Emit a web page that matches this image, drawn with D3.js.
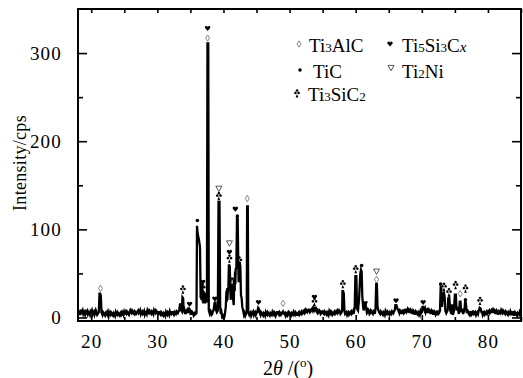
<!DOCTYPE html>
<html>
<head>
<meta charset="utf-8">
<script src="https://cdn.jsdelivr.net/npm/d3@7"></script>
<style>
  body { margin: 0; background: #fff; }
  svg { display: block; }
</style>
</head>
<body>
<div id="chart"></div>
<script>
// XRD trace, [2theta, intensity]
const pattern = [
  [18.0,8],[18.1,4],[18.2,5],[18.3,3],[18.4,9],[18.5,5],[18.6,6],[18.7,8],[18.8,4],[18.9,6],[19.0,7],[19.1,3],[19.2,5],[19.3,7],[19.4,8],[19.5,4],[19.6,6],[19.7,5],[19.8,3],[19.9,7],
  [20.0,6],[20.1,8],[20.2,4],[20.3,6],[20.4,7],[20.5,3],[20.6,5],[20.7,8],[20.8,6],[20.9,3],[21.0,4],[21.15,6],[21.25,27],[21.35,27],[21.45,25],
  [21.55,6],[21.7,3],[21.8,6],[21.9,5],[22.0,3],[22.1,2],[22.2,5],[22.3,4],[22.4,6],[22.5,3],[22.6,1],[22.7,6],[22.8,4],[22.9,3],[23.0,6],[23.1,5],[23.2,3],[23.3,2],
  [23.4,5],[23.5,4],[23.6,2],[23.7,6],[23.8,4],[23.9,3],[24.0,6],[24.1,5],[24.2,3],[24.3,2],[24.4,5],[24.5,6],[24.6,3],[24.7,4],[24.8,6],[24.9,3],[25.0,5],[25.1,7],[25.2,5],[25.3,4],
  [25.4,7],[25.5,6],[25.6,4],[25.7,3],[25.8,6],[25.9,8],[26.0,6],[26.1,5],[26.2,8],[26.3,7],[26.4,5],[26.5,4],[26.6,7],[26.7,6],[26.8,4],[26.9,5],[27.0,7],[27.1,8],[27.2,5],[27.3,6],
  [27.4,8],[27.5,4],[27.6,6],[27.7,7],[27.8,4],[27.9,5],[28.0,7],[28.1,3],[28.2,5],[28.3,6],[28.4,4],[28.5,8],[28.6,6],[28.7,5],[28.8,8],[28.9,7],[29.0,5],[29.1,4],[29.2,7],[29.3,6],
  [29.4,4],[29.5,8],[29.6,6],[29.7,5],[29.8,8],[29.9,7],[30.0,5],[30.1,4],[30.2,6],[30.3,6],[30.4,4],[30.5,3],[30.6,6],[30.7,5],[30.8,3],[30.9,2],[31.0,5],[31.1,4],[31.2,2],[31.3,6],
  [31.4,4],[31.5,3],[31.6,6],[31.7,5],[31.8,3],[31.9,7],[32.0,5],[32.1,4],[32.2,6],[32.3,6],[32.4,4],[32.5,3],[32.6,6],[32.7,5],[32.8,4],[32.9,7],[33.0,6],[33.1,5],[33.2,7],[33.3,8],
  [33.45,16],[33.55,9],[33.7,7],[33.8,23],[33.9,22],[34.0,6],[34.1,8],[34.2,4],[34.3,7],[34.4,6],[34.5,8],[34.6,5],[34.7,8],[34.8,10],
  [34.9,9],[35.0,5],[35.1,6],[35.2,3],[35.3,6],[35.4,5],[35.5,2],[35.6,3],[35.7,5],[35.8,4],[35.92,5],[36.0,104],[36.1,95],[36.3,88],
  [36.45,80],[36.55,22],[36.6,38],[36.65,20],[36.7,21],[36.75,30],[36.8,36],[36.85,18],[36.9,24],[36.95,16],[37.0,30],[37.05,20],[37.1,18],[37.15,27],[37.2,28],[37.25,16],[37.3,20],
  [37.35,28],[37.4,26],[37.45,17],[37.5,22],[37.58,311],[37.7,311],[37.78,8],[37.9,5],[38.0,8],[38.1,7],[38.2,3],[38.3,4],[38.4,7],[38.5,8],[38.65,16],
  [38.75,18],[38.85,9],[39.0,6],[39.15,8],[39.25,131],[39.4,131],[39.5,12],[39.6,4],[39.7,6],[39.8,1],[39.9,2],[40.05,-2],
  [40.2,3],[40.35,12],[40.45,30],[40.5,18],[40.55,33],[40.6,20],[40.65,28],[40.75,35],[40.82,60],[40.95,58],[41.05,30],[41.1,20],[41.15,38],
  [41.25,24],[41.35,36],[41.45,22],[41.55,14],[41.65,45],[41.7,30],[41.75,52],[41.8,38],[41.85,55],[41.95,56],[42.05,115],[42.15,112],
  [42.25,57],[42.3,40],[42.35,60],[42.4,45],[42.45,63],[42.55,58],[42.65,25],[42.75,22],[42.85,12],[43.0,7],[43.1,3],[43.2,5],[43.3,2],[43.4,4],
  [43.52,6],[43.58,126],[43.68,126],[43.75,6],[43.9,3],[44.0,5],[44.1,6],[44.2,2],[44.3,4],[44.4,6],[44.5,7],[44.6,3],[44.7,5],[44.8,6],[44.9,3],
  [45.0,5],[45.1,6],[45.25,11],[45.35,10],[45.45,6],[45.6,3],[45.7,6],[45.8,5],[45.9,3],[46.0,2],[46.1,5],[46.2,4],[46.3,2],[46.4,6],[46.5,4],[46.6,3],
  [46.7,6],[46.8,5],[46.9,3],[47.0,2],[47.1,5],[47.2,4],[47.3,3],[47.4,6],[47.5,4],[47.6,3],[47.7,6],[47.8,5],[47.9,2],[48.0,4],[48.1,6],[48.2,6],[48.3,4],[48.4,3],[48.5,6],[48.6,5],
  [48.7,3],[48.8,4],[48.9,6],[49.0,7],[49.1,5],[49.2,4],[49.3,5],[49.4,2],[49.5,4],[49.6,5],[49.7,2],[49.8,3],[49.9,6],[50.0,5],[50.1,3],[50.2,2],[50.3,5],[50.4,4],[50.5,3],[50.6,6],
  [50.7,4],[50.8,3],[50.9,6],[51.0,5],[51.1,3],[51.2,3],[51.3,5],[51.4,6],[51.5,3],[51.6,4],[51.7,6],[51.8,7],[51.9,4],[52.0,5],[52.1,7],[52.2,8],[52.3,5],[52.4,6],[52.5,9],[52.6,8],
  [52.7,6],[52.8,7],[52.9,9],[53.0,9],[53.1,6],[53.2,7],[53.3,9],[53.4,10],[53.5,8],[53.6,11],[53.7,9],[53.8,12],[53.9,9],[54.0,10],[54.1,7],[54.2,8],[54.3,5],[54.4,6],[54.5,8],[54.6,7],
  [54.7,4],[54.8,5],[54.9,7],[55.0,7],[55.1,5],[55.2,4],[55.3,7],[55.4,6],[55.5,4],[55.6,3],[55.7,6],[55.8,5],[55.9,3],[56.0,7],[56.1,5],[56.2,4],[56.3,7],[56.4,6],[56.5,3],[56.6,4],
  [56.7,6],[56.8,7],[56.9,4],[57.0,5],[57.1,7],[57.2,8],[57.3,5],[57.4,6],[57.5,8],[57.6,7],[57.7,4],[57.8,5],[57.95,8],[58.0,30],[58.1,30],[58.2,27],
  [58.3,7],[58.4,4],[58.5,5],[58.6,6],[58.7,3],[58.8,5],[58.9,6],[59.0,3],[59.1,4],[59.2,6],[59.3,7],[59.4,4],[59.5,5],[59.6,7],[59.7,4],[59.85,12],[59.95,47],
  [60.1,47],[60.2,10],[60.35,8],[60.5,20],[60.7,50],[60.8,54],[60.9,52],[61.0,24],[61.1,14],[61.2,8],[61.3,12],
  [61.45,17],[61.6,10],[61.7,5],[61.8,6],[61.9,9],[62.0,8],[62.1,4],[62.2,5],[62.3,8],[62.4,7],[62.5,5],[62.6,4],[62.7,7],[62.8,6],[62.9,4],[63.0,10],[63.1,38],
  [63.2,38],[63.3,12],[63.4,9],[63.5,7],[63.6,5],[63.7,4],[63.8,7],[63.9,6],[64.0,4],[64.1,3],[64.2,6],[64.3,5],[64.4,3],[64.5,7],[64.6,5],[64.7,4],[64.8,7],[64.9,6],
  [65.0,4],[65.1,3],[65.2,6],[65.3,5],[65.4,4],[65.5,7],[65.6,6],[65.7,5],[65.8,7],[65.9,8],[66.0,14],[66.15,14],[66.3,10],[66.45,8],[66.6,5],
  [66.7,8],[66.8,7],[66.9,5],[67.0,5],[67.1,8],[67.2,8],[67.3,5],[67.4,6],[67.5,9],[67.6,9],[67.7,6],[67.8,7],[67.9,10],[68.0,9],[68.1,6],[68.2,6],[68.3,9],[68.4,8],[68.5,5],[68.6,5],
  [68.7,8],[68.8,7],[68.9,4],[69.0,4],[69.1,7],[69.2,6],[69.3,4],[69.4,3],[69.5,6],[69.6,5],[69.7,3],[69.8,7],[69.9,5],[70.0,6],[70.1,12],[70.25,12],[70.4,8],
  [70.5,10],[70.6,6],[70.7,8],[70.8,9],[70.9,6],[71.0,6],[71.1,9],[71.2,8],[71.3,5],[71.4,5],[71.5,8],[71.6,7],[71.7,4],[71.8,4],[71.9,7],[72.0,6],[72.1,3],[72.2,4],[72.3,7],[72.4,7],
  [72.5,4],[72.6,5],[72.75,8],[72.85,34],[72.95,33],[73.05,12],[73.2,26],[73.35,28],[73.45,24],[73.55,8],[73.7,5],
  [73.9,8],[74.0,22],[74.15,23],[74.3,8],[74.45,4],[74.6,15],[74.7,3],[74.85,7],[75.0,26],[75.15,26],
  [75.25,8],[75.4,12],[75.6,4],[75.75,18],[75.85,18],[75.95,6],[76.1,10],[76.25,4],[76.45,9],[76.55,18],
  [76.65,17],[76.8,5],[76.9,8],[77.0,7],[77.1,4],[77.2,3],[77.3,6],[77.4,6],[77.5,3],[77.6,4],[77.7,7],[77.8,7],[77.9,4],[78.0,5],[78.1,6],[78.2,3],[78.3,5],[78.4,6],
  [78.5,4],[78.6,7],[78.75,11],[78.9,10],[79.05,5],[79.1,7],[79.2,3],[79.3,5],[79.4,6],[79.5,3],[79.6,4],[79.7,6],[79.8,7],[79.9,4],[80.0,5],[80.1,7],[80.2,8],
  [80.3,5],[80.4,6],[80.5,8],[80.6,9],[80.7,6],[80.8,6],[80.9,9],[81.0,8],[81.1,5],[81.2,5],[81.3,8],[81.4,7],[81.5,4],[81.6,4],[81.7,7],[81.8,6],[81.9,5],[82.0,8],[82.1,6],[82.2,5],
  [82.3,8],[82.4,7],[82.5,5],[82.6,4],[82.7,7],[82.8,6],[82.9,4],[83.0,3],[83.1,6],[83.2,5],[83.3,4],[83.4,7],[83.5,5],[83.6,4],[83.7,6],[83.8,6],[83.9,3],[84.0,3],[84.1,6],[84.2,5],
  [84.3,3],[84.4,2],[84.5,5],[84.6,4],[84.7,3],[84.8,6],[84.9,4],[85.0,3]
];

// phase marks above the peaks: [2theta, intensity, phase]
const peakMarks = [
  [21.4,33,"Ti3AlC"],[33.86,30,"Ti3SiC2"],[34.87,15,"Ti5Si3Cx"],[36.05,110,"TiC"],
  [36.85,40,"Ti5Si3Cx"],[36.85,32,"Ti3SiC2"],[37.6,317,"Ti3AlC"],[37.6,328,"Ti5Si3Cx"],
  [38.7,21,"Ti5Si3Cx"],[39.3,136,"Ti3SiC2"],[39.3,146,"Ti2Ni"],[40.9,65,"Ti3SiC2"],
  [40.9,74,"Ti5Si3Cx"],[40.9,84,"Ti2Ni"],[41.3,39,"Ti3SiC2"],[41.8,123,"Ti5Si3Cx"],
  [42.1,115,"TiC"],[42.4,63,"Ti3SiC2"],[43.6,135,"Ti3AlC"],[45.3,17,"Ti5Si3Cx"],
  [49.0,16,"Ti3AlC"],[53.76,23,"Ti5Si3Cx"],[53.76,16,"Ti3SiC2"],[58.05,36,"Ti3SiC2"],
  [60.0,53,"Ti3SiC2"],[60.9,59,"TiC"],[61.4,16,"Ti5Si3Cx"],[63.15,43,"Ti3AlC"],
  [63.15,52,"Ti2Ni"],[66.1,19,"Ti5Si3Cx"],[70.2,17,"Ti5Si3Cx"],[72.85,38,"TiC"],
  [73.35,33,"Ti3SiC2"],[74.1,27,"Ti3SiC2"],[75.1,35,"Ti3SiC2"],[75.8,27,"Ti3AlC"],
  [76.6,31,"Ti3SiC2"],[76.6,20,"TiC"],[78.8,17,"Ti3SiC2"]
];

// legend phases and their label pieces (odd pieces are subscripts)
const phases = ["Ti3AlC", "Ti5Si3Cx", "TiC", "Ti2Ni", "Ti3SiC2"];
const phaseLabels = [
  ["Ti", "3", "AlC"],
  ["Ti", "5", "Si", "3", "C", "x"],
  ["TiC"],
  ["Ti", "2", "Ni"],
  ["Ti", "3", "SiC", "2"]
];

const xTicks = [20, 30, 40, 50, 60, 70, 80];
const xMinor = [20, 25, 30, 35, 40, 45, 50, 55, 60, 65, 70, 75, 80, 85];
const yTicks = [0, 100, 200, 300];
const yMinor = [50, 150, 250];

var serif = "'Liberation Serif'";

var margin = { top: 9, right: 2, bottom: 57, left: 78 },
  width = 523 - margin.left - margin.right,
  height = 378 - margin.top - margin.bottom;

var svg = d3
  .select("#chart")
  .append("svg")
  .attr("width", 523)
  .attr("height", 378);

var g = svg
  .append("g")
  .attr("transform", "translate(" + margin.left + "," + margin.top + ")");

var x = d3.scaleLinear().domain([18, 85]).range([0, width]);
var y = d3.scaleLinear().domain([-4, 350]).range([height, 0]);

// symbols, drawn around 0,0
var shapes = {
  Ti3AlC: "M0,-3.2L2,0L0,3.2L-2,0Z",
  Ti3SiC2:
    "M0,-3.2A1.3,1.3 0 1 1 0.1,-3.2Z M-1.6,-0.8A1.3,1.3 0 1 1 -1.5,-0.8Z M1.6,-0.8A1.3,1.3 0 1 1 1.7,-0.8Z M0,-1L-1.4,2.6L1.4,2.6Z",
  Ti5Si3Cx: "M0,2.6L-2.6,-0.4A1.35,1.35 0 0 1 0,-1.6A1.35,1.35 0 0 1 2.6,-0.4Z",
  Ti2Ni: "M-3,-2.6L3,-2.6L0,2.8Z"
};

function drawMark(sel, phase) {
  if (phase === "TiC") {
    sel.append("circle").attr("r", 1.8).attr("fill", "#000");
  } else if (phase === "Ti3AlC") {
    sel.append("path").attr("d", shapes[phase])
      .attr("fill", "none").attr("stroke", "#777").attr("stroke-width", 0.9);
  } else if (phase === "Ti2Ni") {
    sel.append("path").attr("d", shapes[phase])
      .attr("fill", "none").attr("stroke", "#444").attr("stroke-width", 0.9);
  } else {
    sel.append("path").attr("d", shapes[phase]).attr("fill", "#000");
  }
}

function serifText(sel, size) {
  return sel
    .attr("font-family", "Liberation Serif")
    .attr("font-size", size)
    .style("font-family", serif)
    .style("font-size", size + "px");
}

// the trace
var line = d3
  .line()
  .x(function (d) { return x(d[0]); })
  .y(function (d) { return y(d[1]); });

g.append("path")
  .datum(pattern)
  .attr("fill", "none")
  .attr("stroke", "#000")
  .attr("stroke-width", 2.3)
  .attr("d", line);

// peak marks
peakMarks.forEach(function (m) {
  var mk = g.append("g")
    .attr("transform", "translate(" + x(m[0]) + "," + y(m[1]) + ")");
  drawMark(mk, m[2]);
});

// axes, ticks pointing inward
var axisStyle = function (sel) {
  serifText(sel, 19);
  sel.select(".domain").remove();
  sel.selectAll("line").attr("stroke", "#000").attr("stroke-width", 1.6);
  serifText(sel.selectAll("text"), 19)
    .style("letter-spacing", "1.2px")
    .attr("fill", "#000");
};

g.append("g")
  .attr("transform", "translate(0," + height + ")")
  .call(d3.axisBottom(x).tickValues(xTicks).tickSize(-6).tickPadding(14).tickFormat(d3.format("d")))
  .call(axisStyle);

g.append("g")
  .attr("transform", "translate(0," + height + ")")
  .call(d3.axisBottom(x).tickValues(xMinor.filter(function (v) { return xTicks.indexOf(v) < 0; })).tickSize(-4).tickFormat(""))
  .call(axisStyle);

g.append("g")
  .call(d3.axisTop(x).tickValues(xMinor).tickSize(-4).tickFormat(""))
  .call(axisStyle);

g.append("g")
  .call(d3.axisLeft(y).tickValues(yTicks).tickSize(-9).tickPadding(16).tickFormat(d3.format("d")))
  .call(axisStyle);

g.append("g")
  .call(d3.axisLeft(y).tickValues(yMinor).tickSize(-5).tickFormat(""))
  .call(axisStyle);

g.append("g")
  .attr("transform", "translate(" + width + ",0)")
  .call(d3.axisRight(y).tickValues(yTicks).tickSize(-9).tickFormat(""))
  .call(axisStyle);

g.append("g")
  .attr("transform", "translate(" + width + ",0)")
  .call(d3.axisRight(y).tickValues(yMinor).tickSize(-5).tickFormat(""))
  .call(axisStyle);

// frame
g.append("rect")
  .attr("width", width)
  .attr("height", height)
  .attr("fill", "none")
  .attr("stroke", "#000")
  .attr("stroke-width", 2);

// axis titles
var xt = serifText(svg.append("text"), 20)
  .attr("x", 263)
  .attr("y", 375)
  .attr("fill", "#000");
xt.append("tspan").text("2");
xt.append("tspan").style("font-style", "italic").text("θ");
xt.append("tspan").text(" /(");
xt.append("tspan").style("font-size", "13px").attr("dy", -8).text("o");
xt.append("tspan").attr("dy", 8).text(")");

serifText(svg.append("text"), 18)
  .attr("transform", "translate(26,163) rotate(-90)")
  .attr("text-anchor", "middle")
  .style("letter-spacing", "0.3px")
  .attr("fill", "#000")
  .text("Intensity/cps");

// legend: two columns
var legendPos = [
  [299, 44, 309, 52],
  [390, 44, 402, 52],
  [300, 70, 313, 78],
  [391, 68, 402, 78],
  [297, 95, 308, 101]
];

phases.forEach(function (p, i) {
  var pos = legendPos[i];
  var mk = svg.append("g").attr("transform", "translate(" + pos[0] + "," + pos[1] + ")");
  drawMark(mk, p);
  var t = serifText(svg.append("text"), 19)
    .attr("x", pos[2])
    .attr("y", pos[3])
    .attr("fill", "#000");
  phaseLabels[i].forEach(function (piece, j) {
    var ts = t.append("tspan").text(piece);
    if (j % 2 === 1) {
      ts.style("font-size", "13px");
      if (piece === "x") ts.style("font-style", "italic").style("font-size", "15px");
    }
  });
});
</script>
</body>
</html>
